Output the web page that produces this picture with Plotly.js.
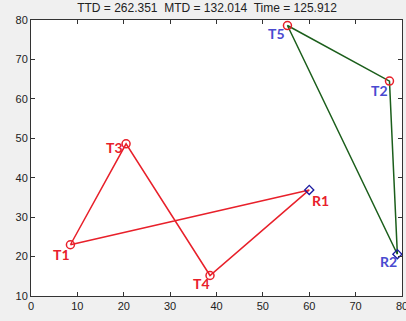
<!DOCTYPE html>
<html><head><meta charset="utf-8">
<script src="https://cdn.plot.ly/plotly-3.0.1.min.js"></script>
<style>html,body{margin:0;padding:0;background:#f0f0f0}</style>
</head><body>
<div id="chart" style="width:406px;height:321px"></div>
<script>
// Route 1 (red): T1 -> T3 -> T4 -> R1 -> T1
const route1Names = ["T1", "T3", "T4", "R1", "T1"];
const route1X = [8.5, 20.5, 38.6, 60.0, 8.5];
const route1Y = [23.0, 48.6, 15.2, 36.9, 23.0];
// Route 2 (green): R2 -> T5 -> T2 -> R2
const route2Names = ["R2", "T5", "T2", "R2"];
const route2X = [79.0, 55.3, 77.3, 79.0];
const route2Y = [20.6, 78.6, 64.5, 20.6];
// Targets and robots
const targetNames = ["T1", "T2", "T3", "T4", "T5"];
const targetX = [8.5, 77.3, 20.5, 38.6, 55.3];
const targetY = [23.0, 64.5, 48.6, 15.2, 78.6];
const robotNames = ["R1", "R2"];
const robotX = [60.0, 79.0];
const robotY = [36.9, 20.6];
const titleText = "TTD = 262.351  MTD = 132.014  Time = 125.912";
const xTicks = [0, 10, 20, 30, 40, 50, 60, 70, 80];
const yTicks = [10, 20, 30, 40, 50, 60, 70, 80];

const red = "#e8202a", green = "#1b5e1b", blue = "#4a4ad0";
const traces = [
  {x: route1X, y: route1Y, mode: "lines", line: {color: red, width: 1.5}, hoverinfo: "skip"},
  {x: route2X, y: route2Y, mode: "lines", line: {color: green, width: 1.5}, hoverinfo: "skip"},
  {x: targetX, y: targetY, text: targetNames, mode: "markers", cliponaxis: false,
   marker: {symbol: "circle-open", size: 8, color: red, line: {width: 1.5}}},
  {x: robotX, y: robotY, text: robotNames, mode: "markers", cliponaxis: false,
   marker: {symbol: "diamond-open", size: 7, color: "#1a1aa0", line: {width: 1.3}}}
];

// label offsets (px) and colours
const labelStyle = {
  T1: [-9, -10, red], T3: [-12, -4, red], T4: [-9, -8, red], R1: [11, -11, red],
  T5: [-11, -8, blue], T2: [-10, -9, blue], R2: [-9, -7, blue]
};
const ann = [];
function addLabels(names, xs, ys) {
  names.forEach((n, i) => {
    const s = labelStyle[n];
    ann.push({x: xs[i], y: ys[i], text: n, showarrow: false, xanchor: "center", yanchor: "middle",
      xshift: s[0], yshift: s[1], font: {family: "Lato, 'Open Sans', sans-serif", size: 14, color: s[2], weight: "bold"}});
  });
}
addLabels(targetNames, targetX, targetY);
addLabels(robotNames, robotX, robotY);

const axisCommon = {showgrid: false, zeroline: false, showline: true, linecolor: "#333", linewidth: 1,
  mirror: "ticks", ticks: "inside", ticklen: 4, tickcolor: "#333", ticklabeloverflow: "allow",
  tickfont: {family: "Liberation Sans, Arial, sans-serif", size: 11, color: "#222"}};

const layout = {
  width: 406, height: 321,
  margin: {l: 31, r: 4, t: 20, b: 25},
  paper_bgcolor: "#f0f0f0", plot_bgcolor: "#ffffff",
  showlegend: false,
  title: {text: titleText, x: 0.51, xanchor: "center", y: 0.988, yanchor: "top",
    font: {family: "Liberation Sans, Arial, sans-serif", size: 12, color: "#222"}},
  xaxis: Object.assign({}, axisCommon, {range: [0, 80], tickvals: xTicks}),
  yaxis: Object.assign({}, axisCommon, {range: [10, 80], tickvals: yTicks}),
  annotations: ann
};
Plotly.newPlot("chart", traces, layout, {displayModeBar: false, staticPlot: true});
</script>
</body></html>
